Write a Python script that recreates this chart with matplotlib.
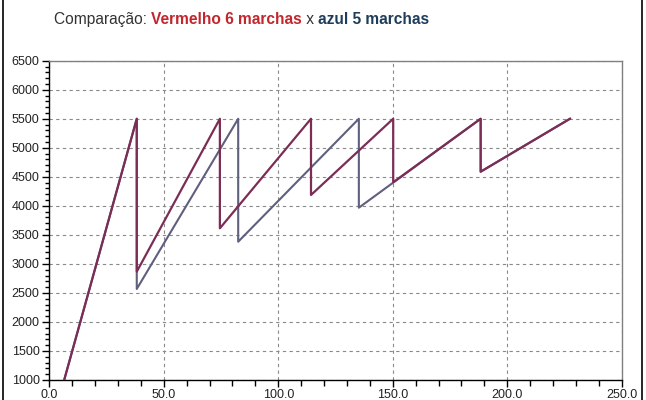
import matplotlib
matplotlib.use('Agg')
import matplotlib.pyplot as plt
from matplotlib.lines import Line2D
from matplotlib.ticker import MultipleLocator, FormatStrFormatter

plt.rcParams['font.family'] = ['Liberation Sans', 'DejaVu Sans']

# speed (x) vs rpm (y)
vermelho_x = [6.5, 38.2, 38.2, 74.5, 74.5, 114.3, 114.3, 150.2, 150.2, 188.4, 188.4, 227.4]
vermelho_y = [1000, 5500, 2866, 5500, 3613, 5500, 4187, 5500, 4406, 5500, 4588, 5500]

azul_x = [6.5, 38.2, 38.2, 82.5, 82.5, 135.2, 135.2, 188.4, 188.4, 227.4]
azul_y = [1000, 5500, 2568, 5500, 3382, 5500, 3968, 5500, 4588, 5500]

fig = plt.figure(figsize=(6.46, 4.0), dpi=100)
ax = fig.add_axes([49.3 / 646, 20 / 400, (621.7 - 49.3) / 646, (380 - 60.7) / 400])

ax.plot(azul_x, azul_y, color='#5f5f7e', lw=1.5, zorder=3)
ax.plot(vermelho_x, vermelho_y, color='#7b2d55', lw=1.6, zorder=4)

ax.set_xlim(0, 250)
ax.set_ylim(1000, 6500)
ax.xaxis.set_major_locator(MultipleLocator(50))
ax.xaxis.set_minor_locator(MultipleLocator(10))
ax.yaxis.set_major_locator(MultipleLocator(500))
ax.yaxis.set_minor_locator(MultipleLocator(100))
ax.xaxis.set_major_formatter(FormatStrFormatter('%.1f'))

ax.grid(True, which='major', color='#8a8a8a', lw=0.8, linestyle=(0, (3, 3)))
ax.set_axisbelow(True)

for s in ['top', 'right']:
    ax.spines[s].set_color('#808080')
    ax.spines[s].set_linewidth(1.0)
for s in ['left', 'bottom']:
    ax.spines[s].set_color('black')
    ax.spines[s].set_linewidth(1.0)

ax.tick_params(which='major', length=5, width=1, labelsize=9, colors='black', pad=2)
ax.tick_params(which='minor', length=3, width=1)
ax.tick_params(axis='x', which='minor', length=4)
ax.tick_params(axis='x', labelcolor='#222222', pad=1.5)
ax.tick_params(axis='y', labelcolor='#222222')

# title in colored pieces
t1 = fig.text(54 / 646, 1 - 24 / 400, 'Comparação: ', fontsize=11.2, color='#333333')
t2 = ax.annotate('Vermelho 6 marchas', xy=(1, 0), xycoords=t1, fontsize=11.2,
                 fontweight='bold', color='#c1272d', va='bottom', ha='left')
t3 = ax.annotate(' x ', xy=(1, 0), xycoords=t2, fontsize=11.2, color='#333333',
                 va='bottom', ha='left')
ax.annotate('azul 5 marchas', xy=(1, 0), xycoords=t3, fontsize=11.2,
            fontweight='bold', color='#1e3d5a', va='bottom', ha='left')

# outer frame lines at the sides
fig.add_artist(Line2D([3 / 646, 3 / 646], [0, 1], color='black', lw=1.2))
fig.add_artist(Line2D([642 / 646, 642 / 646], [0, 1], color='black', lw=1.2))

fig.savefig('out.png', dpi=100)
